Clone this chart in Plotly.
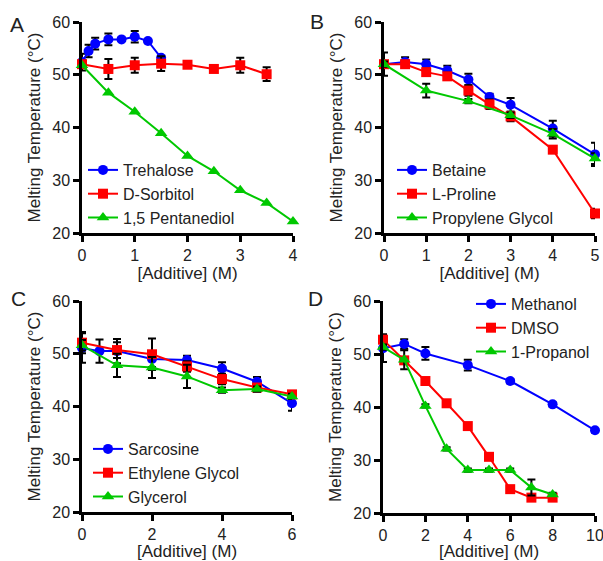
import plotly.graph_objects as go

# ---------------- data ----------------
# Panel A
a_treh_x = [0, 0.125, 0.25, 0.5, 0.75, 1.0, 1.25, 1.5]
a_treh_y = [52.4, 54.5, 55.9, 56.7, 56.7, 57.2, 56.4, 53.2]
a_treh_e = [1.6, 1.2, 1.1, 1.1, 0.3, 1.1, 0.3, 0.3]
a_sorb_x = [0, 0.5, 1.0, 1.5, 2.0, 2.5, 3.0, 3.5]
a_sorb_y = [52.0, 51.1, 51.8, 52.1, 51.9, 51.1, 51.8, 50.1]
a_sorb_e = [0.5, 1.9, 1.4, 1.4, 0.3, 0.4, 1.4, 1.3]
a_pent_x = [0, 0.5, 1.0, 1.5, 2.0, 2.5, 3.0, 3.5, 4.0]
a_pent_y = [51.8, 46.6, 43.0, 38.9, 34.6, 31.7, 28.1, 25.7, 22.2]

# Panel B
b_bet_x = [0, 0.5, 1.0, 1.5, 2.0, 2.5, 3.0, 4.0, 5.0]
b_bet_y = [52.0, 52.4, 52.0, 50.8, 49.1, 45.8, 44.3, 39.8, 34.9]
b_bet_e = [2.2, 0.9, 0.9, 0.9, 1.1, 0.6, 1.3, 1.5, 2.2]
b_pro_x = [0, 0.5, 1.0, 1.5, 2.0, 2.5, 3.0, 4.0, 5.0]
b_pro_y = [52.0, 52.0, 50.5, 49.7, 47.0, 44.4, 42.1, 35.8, 23.7]
b_pro_e = [0.5, 0.5, 0.7, 0.7, 1.0, 0.9, 0.9, 0.4, 0.9]
b_pg_x = [0, 1.0, 2.0, 3.0, 4.0, 5.0]
b_pg_y = [52.0, 47.0, 45.0, 42.3, 38.8, 34.1]
b_pg_e = [0.5, 1.3, 0.4, 0.5, 0.9, 1.0]

# Panel C
c_sar_x = [0, 0.5, 1, 2, 3, 4, 5, 6]
c_sar_y = [51.1, 50.5, 50.5, 49.0, 48.8, 47.2, 44.7, 40.6]
c_sar_e = [2.8, 2.2, 2.3, 1.5, 0.8, 1.2, 0.9, 1.4]
c_eg_x = [0, 1, 2, 3, 4, 5, 6]
c_eg_y = [52.1, 50.7, 49.9, 47.6, 45.2, 43.6, 42.3]
c_eg_e = [2.0, 1.5, 3.0, 1.0, 1.0, 0.5, 0.6]
c_gly_x = [0, 1, 2, 3, 4, 5, 6]
c_gly_y = [51.6, 47.8, 47.4, 45.7, 43.1, 43.3, 41.9]
c_gly_e = [1.0, 2.2, 2.0, 2.2, 0.5, 0.5, 0.5]

# Panel D
d_met_x = [0, 1, 2, 4, 6, 8, 10]
d_met_y = [51.1, 51.9, 50.1, 47.9, 44.9, 40.5, 35.6]
d_met_e = [2.6, 0.9, 1.2, 1.0, 0.4, 0.4, 0.4]
d_dmso_x = [0, 1, 2, 3, 4, 5, 6, 7, 8]
d_dmso_y = [52.7, 48.8, 44.9, 40.7, 36.4, 30.6, 24.5, 22.9, 22.9]
d_dmso_e = [1.0, 0.5, 0.3, 0.3, 0.3, 0.3, 0.3, 0.5, 0.3]
d_prop_x = [0, 1, 2, 3, 4, 5, 6, 7, 8]
d_prop_y = [51.3, 48.9, 40.2, 32.1, 28.1, 28.1, 28.1, 24.8, 23.5]
d_prop_e = [0.5, 1.8, 0.3, 0.3, 0.3, 0.3, 0.3, 1.5, 0.3]

y_ticks = [20, 30, 40, 50, 60]
x_title = "[Additive] (M)"
y_title = "Melting Temperature (°C)"
panel_letters = ["A", "B", "C", "D"]

BLUE = "#0000FF"
RED = "#FF0000"
GREEN = "#00C800"
FONT = "Liberation Sans, Arial, sans-serif"
TXT = "#222222"

fig = go.Figure()


def add(x, y, e, name, color, symbol, size, ax, legend):
    tr = dict(
        x=x, y=y, name=name, mode="lines+markers",
        line=dict(color=color, width=2),
        marker=dict(color=color, symbol=symbol, size=size, line=dict(width=0)),
        xaxis="x" + ("" if ax == 1 else str(ax)),
        yaxis="y" + ("" if ax == 1 else str(ax)),
        legend="legend" + ("" if legend == 1 else str(legend)),
        cliponaxis=False,
    )
    if e is not None:
        tr["error_y"] = dict(type="data", array=e, visible=True, color="black",
                             thickness=2, width=4)
    fig.add_trace(go.Scatter(**tr))


add(a_treh_x, a_treh_y, a_treh_e, "Trehalose", BLUE, "circle", 10, 1, 1)
add(a_sorb_x, a_sorb_y, a_sorb_e, "D-Sorbitol", RED, "square", 10, 1, 1)
add(a_pent_x, a_pent_y, None, "1,5 Pentanediol", GREEN, "triangle-up", 11, 1, 1)

add(b_bet_x, b_bet_y, b_bet_e, "Betaine", BLUE, "circle", 10, 2, 2)
add(b_pro_x, b_pro_y, b_pro_e, "L-Proline", RED, "square", 10, 2, 2)
add(b_pg_x, b_pg_y, b_pg_e, "Propylene Glycol", GREEN, "triangle-up", 11, 2, 2)

add(c_sar_x, c_sar_y, c_sar_e, "Sarcosine", BLUE, "circle", 10, 3, 3)
add(c_eg_x, c_eg_y, c_eg_e, "Ethylene Glycol", RED, "square", 10, 3, 3)
add(c_gly_x, c_gly_y, c_gly_e, "Glycerol", GREEN, "triangle-up", 11, 3, 3)

add(d_met_x, d_met_y, d_met_e, "Methanol", BLUE, "circle", 10, 4, 4)
add(d_dmso_x, d_dmso_y, d_dmso_e, "DMSO", RED, "square", 10, 4, 4)
add(d_prop_x, d_prop_y, d_prop_e, "1-Propanol", GREEN, "triangle-up", 11, 4, 4)

W, H = 603, 561


def xd(l, r):
    return [l / W, r / W]


def yd(t, b):
    return [1 - b / H, 1 - t / H]


axis_common = dict(
    showline=True, linecolor="black", linewidth=2.5, ticks="outside",
    ticklen=6, tickwidth=2.5, tickcolor="black", showgrid=False, zeroline=False,
    tickfont=dict(family=FONT, size=16, color=TXT), automargin=False,
    ticklabeloverflow="allow",
)

layout_axes = {}
xdoms = [xd(82, 293), xd(384, 595), xd(82, 292), xd(383, 595)]
ydoms = [yd(22, 233), yd(22, 233), yd(301, 512), yd(301, 513)]
xranges = [[0, 4], [0, 5], [0, 6], [0, 10]]
xdticks = [1, 1, 2, 2]
for i in range(4):
    sx = "" if i == 0 else str(i + 1)
    layout_axes["xaxis" + sx] = dict(
        axis_common, domain=xdoms[i], range=xranges[i], dtick=xdticks[i],
        anchor="y" + sx, tick0=0,
        title=dict(text=x_title, font=dict(family=FONT, size=17, color=TXT), standoff=3),
    )
    layout_axes["yaxis" + sx] = dict(
        axis_common, domain=ydoms[i], range=[20, 60], tickvals=y_ticks,
        anchor="x" + sx,
        title=dict(text=y_title, font=dict(family=FONT, size=17, color=TXT), standoff=8),
    )

leg_common = dict(
    xanchor="left", yanchor="top", bgcolor="rgba(0,0,0,0)",
    font=dict(family=FONT, size=16, color=TXT), tracegroupgap=0,
    itemclick=False,
)
legpos = [(83, 153), (392, 153), (88, 432), (471, 287)]
legends = {}
for i, (lx, ly) in enumerate(legpos):
    key = "legend" + ("" if i == 0 else str(i + 1))
    legends[key] = dict(leg_common, x=lx / W, y=1 - ly / H)

ann_pos = [(17, 25), (317, 22), (18, 298), (316, 298)]
annotations = []
for letter, (ax_, ay_) in zip(panel_letters, ann_pos):
    annotations.append(dict(
        text=letter, x=ax_ / W, y=1 - ay_ / H, xref="paper", yref="paper",
        showarrow=False, font=dict(family=FONT, size=21, color=TXT),
        xanchor="center", yanchor="middle",
    ))

fig.update_layout(
    width=W, height=H, margin=dict(l=0, r=0, t=0, b=0, autoexpand=False),
    paper_bgcolor="white", plot_bgcolor="white",
    showlegend=True, annotations=annotations,
    **layout_axes, **legends,
)

fig.write_html("out.html", config={"displayModeBar": False},
               post_script="document.body.style.margin='0';document.body.style.overflow='hidden';")
